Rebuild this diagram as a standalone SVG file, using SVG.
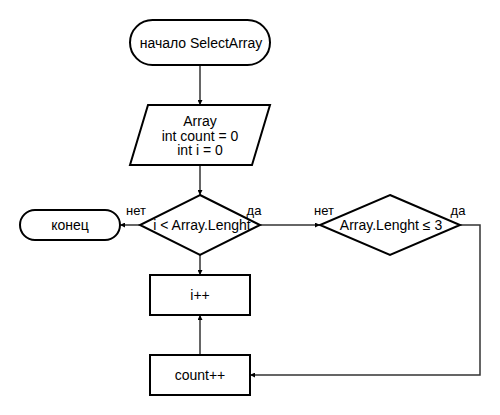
<svg xmlns="http://www.w3.org/2000/svg" width="500" height="415" viewBox="0 0 500 415">
<style>
.s{fill:#fff;stroke:#000;stroke-width:2}
.t{font-family:"Liberation Sans",Arial,sans-serif;font-size:14px;fill:#000;text-anchor:middle;dominant-baseline:central}
.l{font-family:"Liberation Sans",Arial,sans-serif;font-size:13px;fill:#000;text-anchor:middle}
.c{fill:none;stroke:#333;stroke-width:1.5}
</style>
<defs>
<marker id="a" viewBox="0 0 6 6" refX="6" refY="3" markerWidth="5" markerHeight="5" orient="auto" markerUnits="userSpaceOnUse">
<path d="M0,0L6,3L0,6z" fill="#000"/>
</marker>
</defs>
<rect width="500" height="415" fill="#fff"/>
<g id="connectors">
<path class="c" d="M200,65V105" marker-end="url(#a)"/>
<path class="c" d="M200,165V195" marker-end="url(#a)"/>
<path class="c" d="M140,225H120" marker-end="url(#a)"/>
<path class="c" d="M260,225H320" marker-end="url(#a)"/>
<path class="c" d="M200,255V275" marker-end="url(#a)"/>
<path class="c" d="M460,225H480V375H250" marker-end="url(#a)"/>
<path class="c" d="M200,355V315" marker-end="url(#a)"/>
<text class="l" x="136" y="215">нет</text>
<text class="l" x="254" y="215">да</text>
<text class="l" x="324" y="215">нет</text>
<text class="l" x="458" y="215">да</text>
</g>
<g id="start">
<rect class="s" x="130" y="20" width="140" height="45" rx="22.5"/>
<text class="t" x="201" y="42.5">начало SelectArray</text>
</g>
<g id="input">
<polygon class="s" points="148,105 270,105 252,165 130,165"/>
<text class="t" x="200" y="121">Array</text>
<text class="t" x="200" y="135.5">int count = 0</text>
<text class="t" x="200" y="150">int i = 0</text>
</g>
<g id="cond1">
<polygon class="s" points="200,195 260,225 200,255 140,225"/>
<text class="t" x="202" y="225">i &lt; Array.Lenght</text>
</g>
<g id="end">
<rect class="s" x="20" y="210" width="100" height="30" rx="15"/>
<text class="t" x="70" y="225">конец</text>
</g>
<g id="cond2">
<polygon class="s" points="390,195 460,225 390,255 320,225"/>
<text class="t" x="391" y="225">Array.Lenght ≤ 3</text>
</g>
<g id="inc_i">
<rect class="s" x="150" y="275" width="100" height="40"/>
<text class="t" x="200" y="295">i++</text>
</g>
<g id="inc_count">
<rect class="s" x="150" y="355" width="100" height="40"/>
<text class="t" x="200" y="375">count++</text>
</g>
</svg>
